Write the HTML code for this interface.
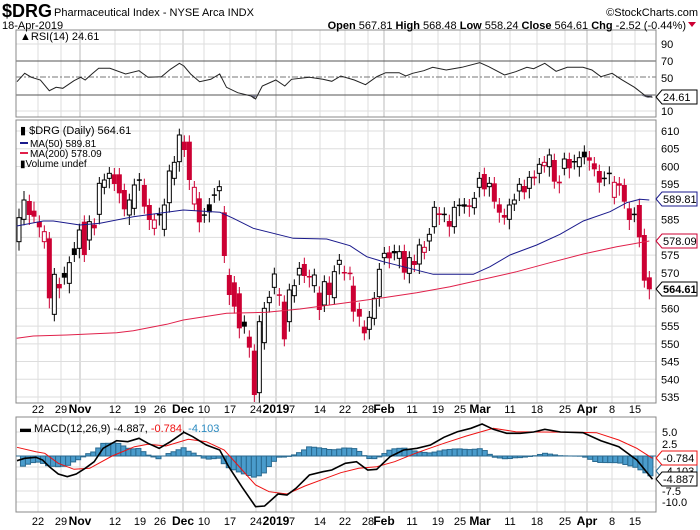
<!DOCTYPE html>
<html><head><meta charset="utf-8"><style>
body{margin:0;background:#fff;width:700px;height:530px;overflow:hidden;font-family:"Liberation Sans",sans-serif}
svg{position:absolute;left:0;top:0}
text{font-family:"Liberation Sans",sans-serif;fill:#000}
</style></head><body>
<svg id="s" width="700" height="530" font-size="11" xmlns="http://www.w3.org/2000/svg"></svg>
<script>
var S=document.getElementById('s'),o='';
function L(x1,y1,x2,y2,c,w,d){o+='<line x1="'+x1+'" y1="'+y1+'" x2="'+x2+'" y2="'+y2+'" stroke="'+c+'" stroke-width="'+(w||1)+'"'+(d?' stroke-dasharray="'+d+'"':'')+'/>';}
function R(x,y,w,h,f,s){o+='<rect x="'+x+'" y="'+y+'" width="'+w+'" height="'+h+'" fill="'+f+'"'+(s?' stroke="'+s+'"':'')+'/>';}
function T(x,y,t,a,ex){o+='<text x="'+x+'" y="'+y+'"'+(a?' text-anchor="'+a+'"':'')+(ex||'')+'>'+t+'</text>';}
function P(pts,c,w){o+='<polyline fill="none" stroke="'+c+'" stroke-width="'+(w||1)+'" points="'+pts.map(function(p){return p[0].toFixed(1)+','+p[1].toFixed(1)}).join(' ')+'"/>';}
var X0=16,X1=656;
var dates=[[38,'22'],[61,'29'],[80,'Nov',1],[115,'12'],[140,'19'],[160,'26'],[183,'Dec',1],[204,'10'],[230,'17'],[256,'24'],[276,'2019',1],[292,'7'],[320,'14'],[345,'22'],[368,'28'],[384,'Feb',1],[412,'11'],[438,'19'],[460,'25'],[480,'Mar',1],[510,'11'],[537,'18'],[565,'25'],[587,'Apr',1],[612,'8'],[635,'15']];
function panel(y0,y1){R(X0,y0,X1-X0,y1-y0,'#fff');dates.forEach(function(d){L(d[0],y0,d[0],y1,d[2]?'#bbb':'#ddd');});}
panel(30,117);
[44,111].forEach(function(y){L(X0,y,X1,y,'#ddd')});
L(X0,61,X1,61,'#555');L(X0,95,X1,95,'#555');L(X0,77,X1,77,'#777',1,'6,2,2,2');
panel(120,403);
for(var p=535;p<=610;p+=5){var y=131+(610-p)*3.547;L(X0,y,X1,y,'#ddd');}
panel(417,512);
[432,444,467,479,491,502].forEach(function(y){L(X0,y,X1,y,'#ddd')});
[[30,117],[120,403],[417,512]].forEach(function(b){o+='<rect x="'+X0+'" y="'+b[0]+'" width="'+(X1-X0)+'" height="'+(b[1]-b[0])+'" fill="none" stroke="#888"/>';});
var rsi=[[38,245],[55,220],[70,232],[90,240],[110,272],[125,262],[140,265],[165,242],[180,232],[190,240],[205,222],[220,205],[245,205],[280,222],[310,212],[330,232],[360,230],[380,208],[400,190],[410,198],[425,222],[445,245],[470,238],[490,222],[505,262],[530,278],[560,288],[570,297],[585,258],[615,240],[635,258],[650,238],[690,232],[720,238],[740,244],[760,228],[790,240],[815,254],[840,230],[860,218],[890,218],[905,228],[920,220],[945,212],[965,202],[995,210],[1030,202],[1070,188],[1090,200],[1125,225],[1150,215],[1175,202],[1190,206],[1215,190],[1240,214],[1265,202],[1300,202],[1320,210],[1340,230],[1365,220],[1385,238],[1415,262],[1440,288],[1455,292]].map(function(p){return [p[0]/2.23,p[1]/3]});
o+='<polygon points="249,95 254,99 257,95" fill="#778"/><polygon points="640,95 648,98 652,97 652,95" fill="#778"/>';
P(rsi,'#222',1);
var c2=[[57,293,365,'w'],[72,240,298,'w'],[88,243,285,'r'],[102,272,290,'r'],[118,305,322,'r'],[133,335,365,'h'],[148,355,535,'r'],[163,463,583,'w'],[178,492,505,'r'],[193,459,473,'k'],[208,428,490,'w'],[223,385,405,'k'],[238,330,385,'w'],[253,305,405,'r'],[268,305,360,'w'],[283,314,325,'r'],[298,190,283,'w'],[313,180,202,'w'],[328,160,175,'w'],[343,163,192,'r'],[358,163,220,'r'],[373,210,268,'r'],[388,240,285,'w'],[403,195,265,'w'],[418,178,182,'k'],[433,195,260,'r'],[448,255,300,'r'],[463,300,325,'h'],[478,282,285,'k'],[493,255,328,'w'],[508,153,248,'w'],[523,127,175,'w'],[538,45,125,'w'],[553,65,90,'r'],[568,65,180,'r'],[583,202,252,'h'],[598,235,307,'r'],[613,283,287,'k'],[628,253,277,'k'],[643,223,227,'k'],[658,200,212,'w'],[673,277,408,'r'],[688,465,525,'r'],[703,487,560,'r'],[718,520,625,'r'],[733,605,620,'k'],[748,650,683,'r'],[763,692,825,'r'],[778,605,818,'w'],[793,565,668,'w'],[808,532,548,'w'],[823,462,502,'w'],[838,523,527,'r'],[853,545,658,'r'],[868,510,605,'w'],[883,497,527,'w'],[898,445,465,'w'],[913,432,468,'r'],[928,468,472,'r'],[943,465,497,'w'],[958,518,570,'r'],[973,485,555,'w'],[988,488,525,'r'],[1003,455,533,'w'],[1018,421,433,'w'],[1033,456,460,'r']];
var c3=[[0,458,462,'r'],[10,497,575,'r'],[28,567,590,'r'],[43,620,640,'r'],[58,592,628,'w'],[73,535,595,'w'],[88,448,530,'w'],[103,400,413,'w'],[118,397,415,'r'],[133,393,400,'k'],[148,395,415,'w'],[163,393,458,'r'],[178,413,460,'w'],[193,423,435,'r'],[208,375,432,'w'],[223,382,397,'h'],[238,343,363,'w'],[253,262,320,'w'],[268,280,285,'r'],[283,281,285,'k'],[298,303,320,'r'],[313,262,320,'w'],[328,254,258,'k'],[343,253,260,'k'],[358,256,260,'r'],[373,235,263,'w'],[388,175,202,'w'],[403,162,208,'r'],[418,190,200,'w'],[433,190,245,'r'],[448,253,278,'r'],[463,285,293,'r'],[478,255,298,'w'],[493,240,252,'w'],[508,193,213,'w'],[523,198,217,'r'],[538,172,205,'w'],[553,170,175,'r'],[568,133,160,'w'],[583,127,137,'h'],[598,105,140,'w'],[613,120,185,'r'],[628,185,190,'r'],[643,117,145,'w'],[658,117,145,'r'],[673,123,127,'k'],[688,113,140,'w'],[703,95,112,'k'],[718,112,122,'r'],[733,130,148,'r'],[748,153,188,'r'],[763,173,177,'k'],[778,158,162,'k'],[793,187,232,'h'],[808,190,197,'r'],[823,195,245,'r'],[838,265,300,'r'],[853,281,285,'k'],[868,255,352,'r'],[883,345,482,'r'],[898,472,508,'r']];
function candle(x,t,b,c){var h=Math.max(b-t,1.5),col=(c=='r'||c=='h')?'#cc0033':'#000';var wt=t-6-((x*7)%5),wb=t+h+6+((x*3)%6);L(x,wt,x,wb,col,1);
 if(c=='w'||c=='h')o+='<rect x="'+(x-2)+'" y="'+t+'" width="4" height="'+h+'" fill="#fff" stroke="'+col+'"/>';else R(x-2.5,t,5,h,col);}
c2.forEach(function(c){candle(c[0]/3,120+c[1]/3,120+c[2]/3,c[3])});
c3.forEach(function(c){candle(350+c[0]/3,120+c[1]/3,120+c[2]/3,c[3])});
var ma50=[[50,318],[130,303],[160,303],[240,315],[300,310],[400,290],[550,270],[660,277],[700,295],[760,325],[880,355],[980,357],[1050,377]].map(function(p){return[p[0]/3,120+p[1]/3]}).concat([[0,377],[50,410],[100,425],[250,463],[370,463],[420,440],[480,405],[560,375],[630,343],[700,303],[780,275],[830,248],[870,238],[898,240]].slice(1).map(function(p){return[350+p[0]/3,120+p[1]/3]}));
var ma200=[[50,655],[100,648],[200,645],[350,638],[400,632],[500,613],[550,600],[680,580],[800,577],[900,567],[1050,547]].map(function(p){return[p[0]/3,120+p[1]/3]}).concat([[100,533],[200,518],[300,500],[400,478],[500,455],[600,428],[700,402],[800,380],[898,363]].map(function(p){return[350+p[0]/3,120+p[1]/3]}));
P(ma50,'#1a1a8c',1);P(ma200,'#e0204a',1);
var mb=[[38,182],[55,175],[80,172],[95,180],[110,200],[130,222],[150,230],[170,222],[190,205],[210,185],[230,145],[260,122],[285,125],[310,115],[330,130],[355,145],[380,125],[410,97],[430,110],[460,135],[490,150],[510,200],[540,262],[570,320],[590,318],[620,282],[640,285],[660,265],[690,225],[720,215],[740,210],[770,190],[795,185],[820,210],[840,208],[870,170],[900,150],[930,145],[960,135],[990,112],[1020,95],[1050,85],[1075,72],[1100,88],[1130,100],[1160,100],[1190,96],[1215,88],[1250,96],[1300,98],[1340,122],[1380,140],[1420,180],[1455,238]].map(function(p){return[p[0]/2.23,400+p[1]/3]});
var ms=[[38,142],[80,155],[100,160],[130,190],[165,208],[200,205],[250,168],[300,140],[330,133],[370,138],[420,118],[460,125],[500,150],[530,195],[570,255],[600,275],[640,282],[680,258],[720,238],[760,218],[800,205],[840,200],[880,185],[930,158],[990,130],[1040,108],[1100,85],[1150,95],[1200,96],[1280,97],[1330,98],[1380,120],[1420,145],[1455,175]].map(function(p){return[p[0]/2.23,400+p[1]/3]});
function interp(a,x){for(var i=1;i<a.length;i++){if(a[i][0]>=x){var t=(x-a[i-1][0])/(a[i][0]-a[i-1][0]);return a[i-1][1]+t*(a[i][1]-a[i-1][1]);}}return a[a.length-1][1];}
for(var i=-4;i<=122;i++){var x=38+5.02*i;if(x<18)continue;var v=(interp(mb,x)-interp(ms,x));var y0=456;if(v<0)R(x-2.5,y0+v,5,-v,'#4a9ccc','#2a6a90');else R(x-2.5,y0,5,v,'#4a9ccc','#2a6a90');}
L(X0,456,X1,456,'#2a6a90');
P(ms,'#ee1111',1);P(mb,'#000',1.6);
dates.forEach(function(d){var ex=d[2]?' font-weight="bold" font-size="12"':'';T(d[0],413,d[1],'middle',ex);T(d[0],525,d[1],'middle',ex);});
[[90,48],[70,65],[50,82],[10,115]].forEach(function(a){T(661,a[1],a[0])});
for(var p=535;p<=610;p+=5){if(p==590||p==580||p==565)continue;T(661,131+(610-p)*3.547+4,p);}
[['5.0',436],['2.5',448],['-7.5',495],['-10.0',506]].forEach(function(a){T(662,a[1],a[0])});
function tag(y,t,c,b){o+='<polygon points="656,'+y+' 662,'+(y-7)+' 697,'+(y-7)+' 697,'+(y+7)+' 662,'+(y+7)+'" fill="#fff" stroke="'+c+'"/>';T(663,y+4,t,null,b?' font-weight="bold"':'');}
tag(97,'24.61','#000');tag(199,'589.81','#1a1a8c');tag(241,'578.09','#cc0033');tag(289,'564.61','#000',1);
tag(471,'-4.103','#2a6a90');tag(458,'-0.784','#ee1111');tag(479,'-4.887','#000');
T(20,40,'&#9650;RSI(14) 24.61',null,' font-size="11"');
T(20,134,'&#9646; $DRG (Daily) 564.61');
L(20,143,28,143,'#1a1a8c',2);T(30,147,'MA(50) 589.81',null,' fill="#1a1a8c" font-size="10"');
L(20,153,28,153,'#e0204a',2);T(30,157,'MA(200) 578.09',null,' fill="#cc0033" font-size="10"');
T(20,167,'&#9646;Volume undef',null,' font-size="10" fill="#444"');
o+='<text x="20" y="432" font-size="11"><tspan>&#9644; MACD(12,26,9) -4.887, </tspan><tspan fill="#ee1111">-0.784</tspan><tspan>, </tspan><tspan fill="#2a8ac0">-4.103</tspan></text>';
o+='<text x="2" y="17" font-size="18" font-weight="bold">$DRG</text>';
T(54,16,'Pharmaceutical Index - NYSE Arca INDX',null,' font-size="11"');
T(698,16,'&#169;StockCharts.com','end',' font-size="11" fill="#444"');
T(2,29,'18-Apr-2019',null,' font-size="11"');
o+='<text x="686" y="29" text-anchor="end" font-size="11"><tspan font-weight="bold">Open</tspan> 567.81 <tspan font-weight="bold">High</tspan> 568.48 <tspan font-weight="bold">Low</tspan> 558.24 <tspan font-weight="bold">Close</tspan> 564.61 <tspan font-weight="bold">Chg</tspan> -2.52 (-0.44%)</text>';
o+='<polygon points="688,22 696,22 692,27" fill="#cc0033"/>';
S.innerHTML=o;
</script>
</body></html>
